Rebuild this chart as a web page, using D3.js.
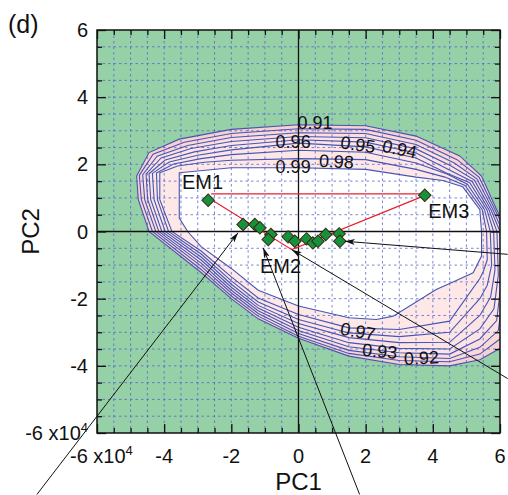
<!DOCTYPE html>
<html>
<head>
<meta charset="utf-8">
<script src="https://cdn.jsdelivr.net/npm/d3@7"></script>
<style>
  html, body { margin: 0; padding: 0; background: #fff; }
  svg { display: block; }
  text { font-family: "Liberation Sans", Arial, Helvetica, sans-serif; fill: #111; }
</style>
</head>
<body>
<svg id="chart" width="508" height="495"></svg>
<script>
// Contour levels of the mixing-fit surface and their closed outlines (PC1, PC2 in units of 1e4)
const levels = [0.91, 0.92, 0.93, 0.94, 0.95, 0.96, 0.97, 0.98, 0.99];

const ring091 = [[-4.82,1.65],[-4.45,2.35],[-3.55,2.75],[-2,3.04],[0,3.18],[2,3.15],[3.5,2.84],[4.8,2.25],[5.45,1.65],[5.9,0.65],[6.25,0],[6.35,-1.5],[6.05,-3.45],[5.4,-3.82],[4.5,-4.0],[3,-3.96],[1.5,-3.71],[0,-3.18],[-1.2,-2.6],[-2,-2.0],[-2.9,-1.22],[-4.45,0],[-4.77,0.95]];
const ring092 = [[-4.74,1.67],[-4.33,2.30],[-3.40,2.66],[-2,2.92],[0,3.06],[2,3.04],[3.5,2.72],[4.72,2.14],[5.38,1.61],[5.85,0.65],[6.17,0],[6.25,-1.5],[6.0,-3.2],[5.4,-3.65],[4.5,-3.88],[3,-3.84],[1.5,-3.63],[0,-3.12],[-1.2,-2.52],[-2,-1.92],[-2.9,-1.13],[-4.35,0],[-4.68,0.95]];
const ring093 = [[-4.64,1.69],[-4.21,2.24],[-3.30,2.56],[-2,2.80],[0,2.94],[2,2.92],[3.5,2.59],[4.64,2.04],[5.31,1.57],[5.79,0.65],[6.08,0],[6.15,-1.5],[5.95,-2.95],[5.4,-3.45],[4.5,-3.78],[3,-3.73],[1.5,-3.54],[0,-3.04],[-1.2,-2.44],[-2,-1.83],[-2.9,-1.03],[-4.25,0],[-4.58,0.95]];
const ring094 = [[-4.54,1.71],[-4.09,2.19],[-3.20,2.47],[-2,2.68],[0,2.83],[2,2.79],[3.5,2.46],[4.56,1.94],[5.24,1.53],[5.73,0.65],[6.0,0],[6.05,-1.4],[5.9,-2.65],[5.4,-3.2],[4.5,-3.65],[3,-3.61],[1.5,-3.43],[0,-2.95],[-1.2,-2.36],[-2,-1.75],[-2.9,-0.94],[-4.16,0],[-4.49,0.95]];
const ring095 = [[-4.45,1.72],[-3.97,2.13],[-3.10,2.37],[-2,2.56],[0,2.73],[2,2.66],[3.5,2.34],[4.48,1.84],[5.17,1.49],[5.67,0.65],[5.91,0],[5.95,-1.3],[5.82,-2.3],[5.4,-2.9],[4.5,-3.5],[3,-3.48],[1.5,-3.31],[0,-2.85],[-1.2,-2.28],[-2,-1.66],[-2.9,-0.85],[-4.07,0],[-4.40,0.95]];
const ring096 = [[-4.35,1.73],[-3.85,2.07],[-3.00,2.27],[-2,2.43],[0,2.63],[2,2.52],[3.5,2.19],[4.40,1.74],[5.10,1.45],[5.61,0.65],[5.81,0],[5.85,-1.15],[5.72,-1.95],[5.4,-2.5],[4.5,-3.3],[3,-3.31],[1.5,-3.16],[0,-2.74],[-1.2,-2.2],[-2,-1.57],[-2.9,-0.76],[-3.97,0],[-4.30,0.95]];
const ring097 = [[-4.23,1.74],[-3.72,2.01],[-2.90,2.17],[-2,2.29],[0,2.42],[2,2.36],[3.5,2.04],[4.42,1.71],[5.03,1.41],[5.54,0.65],[5.71,0],[5.75,-1.0],[5.62,-1.6],[5.4,-2.0],[4.5,-3.0],[3,-3.13],[1.5,-3.02],[0,-2.62],[-1.2,-2.1],[-2,-1.47],[-2.9,-0.67],[-3.87,0],[-4.20,0.95]];
const ring098 = [[-4.13,1.75],[-3.60,1.95],[-2.80,2.06],[-2,2.12],[0,2.17],[2,2.14],[3.5,1.85],[4.36,1.62],[4.96,1.37],[5.47,0.65],[5.60,0],[5.62,-0.85],[5.5,-1.2],[5.4,-1.4],[4.5,-2.67],[3,-2.92],[1.5,-2.87],[0,-2.47],[-1.2,-1.98],[-2,-1.35],[-2.9,-0.58],[-3.77,0],[-4.13,0.95]];
const ring099 = [[-3.55,1.75],[-2,1.90],[0,1.90],[2,1.85],[3.5,1.62],[4.3,1.52],[4.89,1.33],[5.40,0.65],[5.45,0],[5.45,-0.73],[5.2,-1.23],[4.65,-1.48],[4.1,-1.73],[2.82,-2.52],[2.32,-2.62],[1.5,-2.57],[0,-2.22],[-1.2,-1.75],[-2,-1.1],[-2.9,-0.45],[-3.3,0],[-3.55,0.4]];
const rings = [ring091, ring092, ring093, ring094, ring095, ring096, ring097, ring098, ring099];

// Inline contour labels: value, position, rotation (deg)
const labelLevels = ["0.91", "0.96", "0.99", "0.98", "0.95", "0.94", "0.97", "0.93", "0.92"];
const labelPC1    = [0.49, -0.16, -0.16, 1.13, 1.77, 3.01, 1.77, 2.42, 3.66];
const labelPC2    = [3.24, 2.66, 1.94, 2.09, 2.59, 2.46, -2.97, -3.56, -3.76];
const labelAngle  = [0, 0, 0, 3, 8, 12, 10, 5, -3];

// Sample scores
const samplePC1 = [-1.65, -1.30, -1.15, -0.82, -0.90, -0.31, -0.11, 0.24, 0.43, 0.58, 0.81, 1.21, 1.23];
const samplePC2 = [0.21, 0.21, 0.11, -0.09, -0.24, -0.16, -0.29, -0.22, -0.34, -0.29, -0.09, -0.07, -0.29];

// End members
const emNames = ["EM1", "EM2", "EM3"];
const emPC1 = [-2.6, -0.2, 3.66];
const emPC2 = [0.95, -0.54, 1.03];
const emMarked = [true, false, true];
const emMarkPC1 = [-2.69, null, 3.76];
const emMarkPC2 = [0.93, null, 1.08];
const emLabelPC1 = [-3.47, -1.15, 3.86];
const emLabelPC2 = [1.27, -1.23, 0.41];
// Upper edge of the mixing triangle
const topEdgePC1 = [-2.6, 3.65];
const topEdgePC2 = [1.12, 1.12];

// Annotation arrows: start (outside the frame) and tip
const arrowFromPC1 = [-7.79, 1.82, 6.23, 6.23];
const arrowFromPC2 = [-7.83, -7.83, -4.38, -0.68];
const arrowToPC1 = [-1.80, -1.05, -0.20, 1.38];
const arrowToPC2 = [-0.04, -0.49, -0.54, -0.29];

// Axis ticks
const tickStep = 0.5;
const majorTicks = [-6, -4, -2, 0, 2, 4, 6];
const xTickLabels = ["-6 x10", "-4", "-2", "0", "2", "4", "6"];
const yTickLabels = ["-6 x10", "-4", "-2", "0", "2", "4", "6"];

const svg = d3.select("#chart");
const x = d3.scaleLinear().domain([-6, 6]).range([97, 500]);
const y = d3.scaleLinear().domain([-6, 6]).range([433, 30]);
const [x0, x1] = x.range();
const [y0, y1] = [y(6), y(-6)];

const defs = svg.append("defs");
defs.append("clipPath").attr("id", "plotClip")
  .append("rect").attr("x", x0).attr("y", y0).attr("width", x1 - x0).attr("height", y1 - y0);
defs.append("marker").attr("id", "arrowHead")
  .attr("viewBox", "0 0 10 6").attr("refX", 10).attr("refY", 3)
  .attr("markerUnits", "userSpaceOnUse").attr("markerWidth", 11).attr("markerHeight", 6)
  .attr("orient", "auto")
  .append("path").attr("d", "M0,0 L10,3 L0,6 L2.5,3 Z").attr("fill", "#111");

const plot = svg.append("g").attr("clip-path", "url(#plotClip)");

// Background (below lowest level)
plot.append("rect").attr("x", x0).attr("y", y0).attr("width", x1 - x0).attr("height", y1 - y0)
  .attr("fill", "#95d0a7");

// Filled bands, outer to inner
const bandFill = ["#f9d0d0", "#fbd8d8", "#fcdede", "#fde3e3", "#fde4e4", "#fde5e5", "#fde6e6", "#fde7e7", "#ffffff"];
const ringPath = d3.line().x(d => x(d[0])).y(d => y(d[1])).curve(d3.curveLinearClosed);
plot.selectAll("path.band").data(rings).join("path")
  .attr("class", "band")
  .attr("d", ringPath)
  .attr("fill", (d, i) => bandFill[i]);

// Dashed grid
const gridVals = d3.range(-6 + tickStep, 6, tickStep);
plot.selectAll("line.gx").data(gridVals).join("line")
  .attr("x1", d => x(d)).attr("x2", d => x(d)).attr("y1", y0).attr("y2", y1)
  .attr("stroke", "#5566cc").attr("stroke-width", 0.8).attr("stroke-dasharray", "2.5,3");
plot.selectAll("line.gy").data(gridVals).join("line")
  .attr("y1", d => y(d)).attr("y2", d => y(d)).attr("x1", x0).attr("x2", x1)
  .attr("stroke", "#5566cc").attr("stroke-width", 0.8).attr("stroke-dasharray", "2.5,3");

// Contour lines
plot.selectAll("path.contour").data(rings).join("path")
  .attr("class", "contour")
  .attr("d", ringPath)
  .attr("fill", "none").attr("stroke", "#4656b4").attr("stroke-width", 1.1);

// Zero lines
plot.append("line").attr("x1", x(0)).attr("x2", x(0)).attr("y1", y0).attr("y2", y1)
  .attr("stroke", "#111").attr("stroke-width", 1.3);
plot.append("line").attr("y1", y(0)).attr("y2", y(0)).attr("x1", x0).attr("x2", x1)
  .attr("stroke", "#111").attr("stroke-width", 1.3);

// Contour labels
plot.selectAll("text.clab").data(labelLevels).join("text")
  .attr("class", "clab")
  .attr("transform", (d, i) => `translate(${x(labelPC1[i])},${y(labelPC2[i])}) rotate(${labelAngle[i]})`)
  .attr("text-anchor", "middle").attr("dy", "0.35em")
  .attr("font-size", 18)
  .text(d => d);

// Mixing triangle
const pcLine = d3.line().x(d => x(d[0])).y(d => y(d[1]));
plot.append("path")
  .attr("d", pcLine(d3.zip(emPC1, emPC2)))
  .attr("fill", "none").attr("stroke", "#e8202a").attr("stroke-width", 1.2);
plot.append("path")
  .attr("d", pcLine(d3.zip(topEdgePC1, topEdgePC2)))
  .attr("fill", "none").attr("stroke", "#e8202a").attr("stroke-width", 1.2);

// Sample and end-member markers
const diamond = d3.symbol(d3.symbolSquare, 78);
const markers = d3.zip(samplePC1, samplePC2)
  .concat(emMarked.map((m, i) => m ? [emMarkPC1[i], emMarkPC2[i]] : null).filter(Boolean));
plot.selectAll("path.pt").data(markers).join("path")
  .attr("class", "pt")
  .attr("d", diamond)
  .attr("transform", d => `translate(${x(d[0])},${y(d[1])}) rotate(45)`)
  .attr("fill", "#15923b").attr("stroke", "#3b2a12").attr("stroke-width", 1);

// End-member labels
plot.selectAll("text.em").data(emNames).join("text")
  .attr("class", "em")
  .attr("x", (d, i) => x(emLabelPC1[i])).attr("y", (d, i) => y(emLabelPC2[i]))
  .attr("font-size", 20).attr("fill", "#222")
  .text(d => d);

// Frame
svg.append("rect").attr("x", x0).attr("y", y0).attr("width", x1 - x0).attr("height", y1 - y0)
  .attr("fill", "none").attr("stroke", "#111").attr("stroke-width", 1.5);

// Inward ticks on all four sides
const minorVals = d3.range(-6, 6.001, tickStep).filter(v => !majorTicks.includes(v));
function ticks(gen, tv, size) { return gen.tickValues(tv).tickSize(size).tickFormat(""); }
const tickLayers = [
  [d3.axisTop(x), `translate(0,${y1})`],
  [d3.axisBottom(x), `translate(0,${y0})`],
  [d3.axisRight(y), `translate(${x0},0)`],
  [d3.axisLeft(y), `translate(${x1},0)`]
];
tickLayers.forEach(([gen, tr]) => {
  [[minorVals, 5], [majorTicks, 9]].forEach(([tv, size]) => {
    const g = svg.append("g").attr("transform", tr).call(ticks(gen, tv, size));
    g.select(".domain").remove();
    g.selectAll("line").attr("stroke", "#111").attr("stroke-width", 1.3);
  });
});

// Tick labels
const xl = svg.selectAll("text.xt").data(majorTicks).join("text")
  .attr("class", "xt")
  .attr("x", (d, i) => i === 0 ? x(d) - 27 : x(d))
  .attr("y", y1 + 30)
  .attr("text-anchor", (d, i) => i === 0 ? "start" : "middle")
  .attr("font-size", 20)
  .text((d, i) => xTickLabels[i]);
xl.filter((d, i) => i === 0).append("tspan").attr("font-size", 13).attr("dy", -8).text("4");

const yl = svg.selectAll("text.yt").data(majorTicks).join("text")
  .attr("class", "yt")
  .attr("x", x0 - 9)
  .attr("y", d => y(d) + 7)
  .attr("text-anchor", "end")
  .attr("font-size", 20)
  .text((d, i) => yTickLabels[i]);
yl.filter((d, i) => i === 0).append("tspan").attr("font-size", 13).attr("dy", -8).text("4");

// Axis titles and panel tag
svg.append("text").attr("x", x(0)).attr("y", 490).attr("text-anchor", "middle")
  .attr("font-size", 24).text("PC1");
svg.append("text").attr("transform", `translate(39,${y(0)}) rotate(-90)`)
  .attr("text-anchor", "middle").attr("font-size", 24).text("PC2");
svg.append("text").attr("x", 8).attr("y", 33).attr("font-size", 25).text("(d)");

// Annotation arrows
svg.selectAll("line.arrow").data(arrowFromPC1).join("line")
  .attr("class", "arrow")
  .attr("x1", (d, i) => x(arrowFromPC1[i])).attr("y1", (d, i) => y(arrowFromPC2[i]))
  .attr("x2", (d, i) => x(arrowToPC1[i])).attr("y2", (d, i) => y(arrowToPC2[i]))
  .attr("stroke", "#111").attr("stroke-width", 1)
  .attr("marker-end", "url(#arrowHead)");
</script>
</body>
</html>
